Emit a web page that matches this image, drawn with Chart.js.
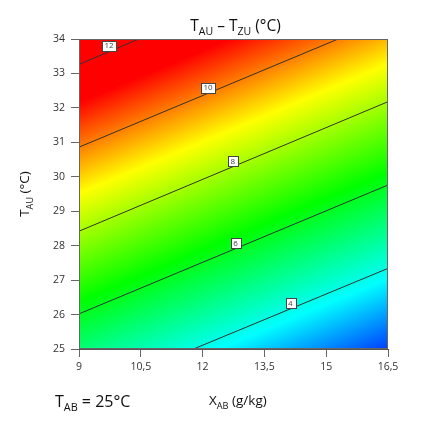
<!DOCTYPE html>
<html>
<head>
<meta charset="utf-8">
<script src="https://cdn.jsdelivr.net/npm/chart.js@4"></script>
<style>
  html, body { margin: 0; padding: 0; background: #fff; }
  #wrap { width: 424px; height: 425px; }
</style>
</head>
<body>
<div id="wrap"><canvas id="myChart" width="424" height="425"></canvas></div>
<script>
// grid nodes (X in g/kg, T in °C) and value of T_AU - T_ZU
const xNodes = [9, 10.5, 12, 13.5, 15, 16.5]
const yNodes = [25, 26, 27, 28, 29, 30, 31, 32, 33, 34]
const zGrid = [
  [5.16, 4.54, 3.92, 3.29, 2.67, 2.05],
  [5.99, 5.37, 4.75, 4.12, 3.50, 2.88],
  [6.82, 6.20, 5.57, 4.95, 4.33, 3.71],
  [7.65, 7.03, 6.40, 5.78, 5.16, 4.54],
  [8.47, 7.85, 7.23, 6.61, 5.99, 5.37],
  [9.30, 8.68, 8.06, 7.44, 6.82, 6.20],
  [10.13, 9.51, 8.89, 8.27, 7.65, 7.03],
  [10.96, 10.34, 9.72, 9.10, 8.47, 7.85],
  [11.79, 11.17, 10.55, 9.92, 9.30, 8.68],
  [12.62, 12.00, 11.37, 10.75, 10.13, 9.51]
]

// contour lines (end points) and where their labels sit
const contourLevels = [12, 10, 8, 6, 4]
const contourLines = [
  [{x: 9, y: 33.26}, {x: 10.45, y: 34}],
  [{x: 9, y: 30.86}, {x: 15.29, y: 34}],
  [{x: 9, y: 28.42}, {x: 16.5, y: 32.18}],
  [{x: 9, y: 26.02}, {x: 16.5, y: 29.76}],
  [{x: 11.78, y: 25}, {x: 16.5, y: 27.34}]
]
const labelPos = [
  {x: 9.73, y: 33.81},
  {x: 12.13, y: 32.59},
  {x: 12.73, y: 30.45},
  {x: 12.80, y: 28.07},
  {x: 14.13, y: 26.34}
]

const xTicks = [9, 10.5, 12, 13.5, 15, 16.5]
const yTicks = [25, 26, 27, 28, 29, 30, 31, 32, 33, 34]

const FONT = "'Open Sans', 'Noto Sans', sans-serif"

// rainbow colour stops: value -> rgb
const cmap = [
  [1.5, [0, 0, 255]],
  [3.75, [0, 255, 255]],
  [6.3, [0, 255, 0]],
  [8.9, [255, 255, 0]],
  [11.1, [255, 0, 0]]
]

const colorFor = (v) => {
  if (v <= cmap[0][0]) return cmap[0][1]
  for (let i = 1; i < cmap.length; i++) {
    if (v <= cmap[i][0]) {
      const t = (v - cmap[i - 1][0]) / (cmap[i][0] - cmap[i - 1][0])
      const a = cmap[i - 1][1], b = cmap[i][1]
      return [0, 1, 2].map(k => Math.round(a[k] + (b[k] - a[k]) * t))
    }
  }
  return cmap[cmap.length - 1][1]
}

const findCell = (arr, v) => {
  for (let i = 0; i < arr.length - 2; i++) {
    if (v < arr[i + 1]) return i
  }
  return arr.length - 2
}

// value at a point, bilinear between grid nodes
const zAt = (x, y) => {
  const i = findCell(xNodes, x)
  const j = findCell(yNodes, y)
  const tx = (x - xNodes[i]) / (xNodes[i + 1] - xNodes[i])
  const ty = (y - yNodes[j]) / (yNodes[j + 1] - yNodes[j])
  const z00 = zGrid[j][i], z10 = zGrid[j][i + 1]
  const z01 = zGrid[j + 1][i], z11 = zGrid[j + 1][i + 1]
  return z00 * (1 - tx) * (1 - ty) + z10 * tx * (1 - ty) + z01 * (1 - tx) * ty + z11 * tx * ty
}

// text with subscripts: parts = [[text, isSub], ...]
const richWidth = (ctx, parts, size) => {
  let w = 0
  parts.forEach(([t, sub]) => {
    ctx.font = `${sub ? size * 0.68 : size}px ${FONT}`
    w += ctx.measureText(t).width
  })
  return w
}
const drawRich = (ctx, parts, x, y, size) => {
  let cx = x
  parts.forEach(([t, sub]) => {
    ctx.font = `${sub ? size * 0.68 : size}px ${FONT}`
    ctx.fillText(t, cx, sub ? y + size * 0.28 : y)
    cx += ctx.measureText(t).width
  })
}

const heatPlugin = {
  id: 'heat',
  beforeDatasetsDraw(chart) {
    const {ctx, chartArea: a, scales: {x, y}} = chart
    const w = Math.round(a.right - a.left), h = Math.round(a.bottom - a.top)
    const off = document.createElement('canvas')
    off.width = w
    off.height = h
    const octx = off.getContext('2d')
    const img = octx.createImageData(w, h)
    for (let py = 0; py < h; py++) {
      const yv = y.getValueForPixel(a.top + py + 0.5)
      for (let px = 0; px < w; px++) {
        const xv = x.getValueForPixel(a.left + px + 0.5)
        const c = colorFor(zAt(xv, yv))
        const k = (py * w + px) * 4
        img.data[k] = c[0]
        img.data[k + 1] = c[1]
        img.data[k + 2] = c[2]
        img.data[k + 3] = 255
      }
    }
    octx.putImageData(img, 0, 0)
    ctx.save()
    ctx.drawImage(off, a.left, a.top, w, h)
    ctx.restore()
  },
  afterDatasetsDraw(chart) {
    const {ctx, chartArea: a, scales: {x, y}} = chart
    ctx.save()
    // contour labels
    ctx.font = `8px ${FONT}`
    ctx.textAlign = 'center'
    ctx.textBaseline = 'middle'
    labelPos.forEach((p, i) => {
      const px = x.getPixelForValue(p.x), py = y.getPixelForValue(p.y)
      const txt = String(contourLevels[i])
      const bw = ctx.measureText(txt).width + 5, bh = 10
      ctx.fillStyle = '#fff'
      ctx.fillRect(Math.round(px - bw / 2) + 0.5, Math.round(py - bh / 2) + 0.5, Math.round(bw), bh)
      ctx.strokeStyle = '#444'
      ctx.lineWidth = 1
      ctx.strokeRect(Math.round(px - bw / 2) + 0.5, Math.round(py - bh / 2) + 0.5, Math.round(bw), bh)
      ctx.fillStyle = '#444'
      ctx.fillText(txt, px, py + 0.5)
    })
    // frame
    ctx.strokeStyle = '#666'
    ctx.lineWidth = 1
    ctx.strokeRect(a.left + 0.5, a.top + 0.5, a.right - a.left - 1, a.bottom - a.top - 1)
    ctx.restore()
  },
  afterDraw(chart) {
    const {ctx, chartArea: a} = chart
    ctx.save()
    ctx.fillStyle = '#111'
    ctx.textAlign = 'left'
    ctx.textBaseline = 'alphabetic'
    // title
    const title = [['T', false], ['AU', true], [' \u2013 T', false], ['ZU', true], [' (°C)', false]]
    const tw = richWidth(ctx, title, 15.5)
    drawRich(ctx, title, (a.left + a.right) / 2 - tw / 2 + 2, 31, 15.5)
    // y axis title
    const yt = [['T', false], ['AU', true], [' (°C)', false]]
    const yw = richWidth(ctx, yt, 13.5)
    ctx.save()
    ctx.translate(29, (a.top + a.bottom) / 2)
    ctx.rotate(-Math.PI / 2)
    drawRich(ctx, yt, -yw / 2, 0, 13.5)
    ctx.restore()
    // x axis title and note
    drawRich(ctx, [['X', false], ['AB', true], [' (g/kg)', false]], 209, 405, 13.5)
    drawRich(ctx, [['T', false], ['AB', true], [' = 25°C', false]], 55, 407, 16)
    ctx.restore()
  }
}

new Chart('myChart', {
  type: 'scatter',
  data: {
    datasets: contourLines.map((pts, i) => ({
      label: String(contourLevels[i]),
      data: pts,
      showLine: true,
      borderColor: '#333',
      borderWidth: 1,
      pointRadius: 0,
      fill: false
    }))
  },
  options: {
    responsive: false,
    animation: false,
    devicePixelRatio: 1,
    layout: {padding: {left: 0, top: 39, right: 36, bottom: 0}},
    plugins: {
      legend: {display: false},
      title: {display: false},
      tooltip: {enabled: false}
    },
    scales: {
      x: {
        type: 'linear',
        min: 9,
        max: 16.5,
        afterFit: (s) => { s.height = 76 },
        afterBuildTicks: (s) => { s.ticks = xTicks.map(v => ({value: v})) },
        ticks: {
          color: '#333',
          font: {family: FONT, size: 10.5},
          padding: 4,
          callback: (v) => String(v).replace('.', ',')
        },
        grid: {drawOnChartArea: false, drawTicks: true, tickLength: 8, color: '#666'},
        border: {display: true, color: '#555'}
      },
      y: {
        type: 'linear',
        min: 25,
        max: 34,
        afterFit: (s) => { s.width = 79 },
        afterBuildTicks: (s) => { s.ticks = yTicks.map(v => ({value: v})) },
        ticks: {
          color: '#333',
          font: {family: FONT, size: 10.5},
          padding: 6
        },
        grid: {drawOnChartArea: false, drawTicks: true, tickLength: 8, color: '#666'},
        border: {display: true, color: '#555'}
      }
    }
  },
  plugins: [heatPlugin]
})
</script>
</body>
</html>
